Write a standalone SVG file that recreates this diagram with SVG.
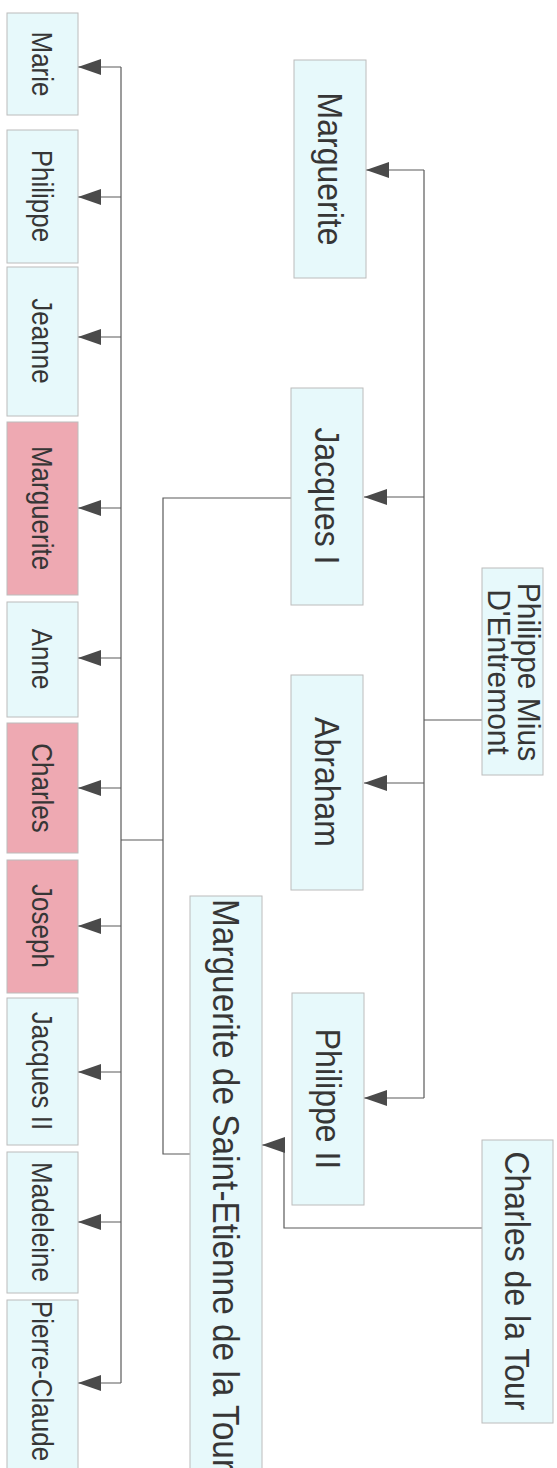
<svg xmlns="http://www.w3.org/2000/svg" width="557" height="1468" viewBox="0 0 557 1468">
<style>
.bg{fill:#ffffff}
.box{fill:#e7f9fb;stroke:#bcbcbc;stroke-width:1}
.pink{fill:#eea9b2}
.lbl{font-family:"Liberation Sans",Arial,sans-serif;fill:#363636}
.big{font-size:32px}
.small{font-size:26px}
.conn{stroke:#5a5a5a;stroke-width:1.2;fill:none}
.arr{stroke:#5a5a5a;stroke-width:1.2;fill:none;marker-end:url(#ah)}
</style>
<defs>
<marker id="ah" viewBox="0 0 23 16" refX="23" refY="8" markerWidth="23" markerHeight="16" markerUnits="userSpaceOnUse" orient="auto">
<path d="M0,0 L23,8 L0,16 Z" fill="#4a4a4a"/>
</marker>
</defs>
<rect class="bg" x="0" y="0" width="557" height="1468"/>

<g id="connectors">
<path class="conn" d="M482,720 H424"/>
<path class="conn" d="M424,170 V1098"/>
<path class="arr" d="M424,170 H366"/>
<path class="arr" d="M424,497 H364"/>
<path class="arr" d="M424,783 H364"/>
<path class="arr" d="M424,1098 H364"/>
<path class="arr" d="M482,1228 H284 V1145 H262"/>
<path class="conn" d="M291,498 H163 V1154 H190"/>
<path class="conn" d="M163,840 H121"/>
<path class="conn" d="M121,67 V1383"/>
<path class="arr" d="M121,67 H78"/>
<path class="arr" d="M121,197 H78"/>
<path class="arr" d="M121,337 H78"/>
<path class="arr" d="M121,508 H78"/>
<path class="arr" d="M121,658 H78"/>
<path class="arr" d="M121,788 H78"/>
<path class="arr" d="M121,926 H78"/>
<path class="arr" d="M121,1072 H78"/>
<path class="arr" d="M121,1222 H78"/>
<path class="arr" d="M121,1383 H78"/>
</g>

<g id="n-philippe-mius">
<rect class="box" x="482" y="568" width="61" height="207"/>
<text class="lbl" style="font-size:30px" text-anchor="middle" transform="translate(518,672) scale(1.04,1) rotate(90)">Philippe Mius</text>
<text class="lbl" style="font-size:30px" text-anchor="middle" transform="translate(488,672) scale(1.04,1) rotate(90)">D'Entremont</text>
</g>
<g id="n-charles-de-la-tour">
<rect class="box" x="482" y="1140" width="71" height="283"/>
<text class="lbl big" text-anchor="middle" transform="translate(505,1281) scale(1.08,1) rotate(90)">Charles de la Tour</text>
</g>
<g id="n-marguerite-top">
<rect class="box" x="294" y="60" width="72" height="218"/>
<text class="lbl big" text-anchor="middle" transform="translate(318,169) scale(1.08,1) rotate(90)">Marguerite</text>
</g>
<g id="n-jacques-i">
<rect class="box" x="291" y="388" width="72" height="217"/>
<text class="lbl big" text-anchor="middle" transform="translate(315,496) scale(1.08,1) rotate(90)">Jacques I</text>
</g>
<g id="n-abraham">
<rect class="box" x="291" y="675" width="72" height="215"/>
<text class="lbl big" text-anchor="middle" transform="translate(315,782) scale(1.08,1) rotate(90)">Abraham</text>
</g>
<g id="n-philippe-ii">
<rect class="box" x="292" y="993" width="72" height="212"/>
<text class="lbl big" text-anchor="middle" transform="translate(316,1099) scale(1.08,1) rotate(90)">Philippe II</text>
</g>
<g id="n-marguerite-saint-etienne">
<rect class="box" x="190" y="896" width="72" height="590"/>
<text class="lbl" style="font-size:33.4px" text-anchor="start" transform="translate(213,899) scale(1.08,1) rotate(90)">Marguerite de Saint-Etienne de la Tour</text>
</g>

<g id="n-marie">
<rect class="box" x="7" y="13" width="71" height="102"/>
<text class="lbl small" text-anchor="middle" transform="translate(32,64) scale(1.15,1) rotate(90)">Marie</text>
</g>
<g id="n-philippe">
<rect class="box" x="7" y="130" width="71" height="133"/>
<text class="lbl small" text-anchor="middle" transform="translate(32,196) scale(1.15,1) rotate(90)">Philippe</text>
</g>
<g id="n-jeanne">
<rect class="box" x="7" y="267" width="71" height="149"/>
<text class="lbl small" text-anchor="middle" transform="translate(32,341) scale(1.15,1) rotate(90)">Jeanne</text>
</g>
<g id="n-marguerite">
<rect class="box pink" x="7" y="422" width="71" height="173"/>
<text class="lbl small" text-anchor="middle" transform="translate(32,508) scale(1.15,1) rotate(90)">Marguerite</text>
</g>
<g id="n-anne">
<rect class="box" x="7" y="602" width="71" height="115"/>
<text class="lbl small" text-anchor="middle" transform="translate(32,659) scale(1.15,1) rotate(90)">Anne</text>
</g>
<g id="n-charles">
<rect class="box pink" x="7" y="723" width="71" height="130"/>
<text class="lbl small" text-anchor="middle" transform="translate(32,788) scale(1.15,1) rotate(90)">Charles</text>
</g>
<g id="n-joseph">
<rect class="box pink" x="7" y="860" width="71" height="133"/>
<text class="lbl small" text-anchor="middle" transform="translate(32,926) scale(1.15,1) rotate(90)">Joseph</text>
</g>
<g id="n-jacques-ii">
<rect class="box" x="7" y="998" width="71" height="147"/>
<text class="lbl small" text-anchor="middle" transform="translate(32,1071) scale(1.15,1) rotate(90)">Jacques II</text>
</g>
<g id="n-madeleine">
<rect class="box" x="7" y="1152" width="71" height="141"/>
<text class="lbl small" text-anchor="middle" transform="translate(32,1222) scale(1.15,1) rotate(90)">Madeleine</text>
</g>
<g id="n-pierre-claude">
<rect class="box" x="7" y="1300" width="71" height="180"/>
<text class="lbl small" text-anchor="middle" transform="translate(32,1381) scale(1.15,1) rotate(90)">Pierre-Claude</text>
</g>
</svg>
